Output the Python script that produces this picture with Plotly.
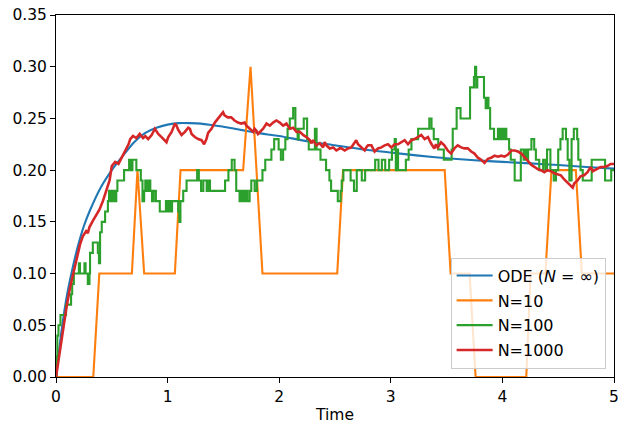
import plotly.graph_objects as go

# ODE (N = infinity) curve
ode_t = [0.0, 0.05, 0.1, 0.15, 0.2, 0.25, 0.3, 0.4, 0.5, 0.6, 0.7, 0.8, 0.9, 1.0, 1.1, 1.2, 1.3,
         1.4, 1.5, 1.6, 1.8, 2.0, 2.25, 2.5, 2.75, 3.0, 3.25, 3.5, 3.75, 4.0, 4.25, 4.5, 4.75, 5.0]
ode_v = [0.0, 0.045, 0.080, 0.106, 0.128, 0.146, 0.160, 0.183, 0.200, 0.214, 0.227, 0.236, 0.241,
         0.244, 0.2455, 0.2455, 0.245, 0.2435, 0.242, 0.240, 0.236, 0.233, 0.228, 0.224, 0.220,
         0.217, 0.214, 0.2115, 0.2095, 0.208, 0.2065, 0.205, 0.203, 0.2015]

# N = 10
n10_t = [0.0, 0.334, 0.388, 0.68, 0.73, 0.79, 1.065, 1.116, 1.677, 1.743, 1.85, 2.52, 2.572,
         3.483, 3.536, 3.706, 3.76, 4.214, 4.253, 4.385, 4.44, 4.658, 4.712, 5.0]
n10_v = [0.0, 0.0, 0.1, 0.1, 0.2, 0.1, 0.1, 0.2, 0.2, 0.3, 0.1, 0.1, 0.2,
         0.2, 0.1, 0.1, 0.0, 0.0, 0.1, 0.1, 0.2, 0.2, 0.1, 0.1]

# N = 100 (change points)
n100_t = [0.000, 0.006, 0.012, 0.022, 0.040, 0.090, 0.135, 0.145, 0.160, 0.205, 0.215, 0.255,
          0.265, 0.285, 0.300, 0.305, 0.330, 0.375, 0.385, 0.395, 0.410, 0.440, 0.465, 0.475,
          0.485, 0.495, 0.505, 0.515, 0.525, 0.540, 0.550, 0.610, 0.655, 0.670, 0.685, 0.720,
          0.760, 0.775, 0.790, 0.800, 0.815, 0.830, 0.845, 0.860, 0.875, 0.895, 0.930, 0.985,
          0.995, 1.010, 1.025, 1.040, 1.095, 1.105, 1.115, 1.140, 1.170, 1.265, 1.280, 1.300,
          1.320, 1.350, 1.365, 1.380, 1.515, 1.545, 1.575, 1.600, 1.615, 1.645, 1.655, 1.665,
          1.675, 1.690, 1.700, 1.715, 1.735, 1.750, 1.780, 1.800, 1.850, 1.875, 1.930, 1.955,
          1.995, 2.015, 2.035, 2.055, 2.075, 2.095, 2.125, 2.145, 2.165, 2.175, 2.220, 2.250,
          2.265, 2.320, 2.335, 2.370, 2.420, 2.450, 2.465, 2.525, 2.550, 2.560, 2.575, 2.640,
          2.670, 2.695, 2.740, 2.770, 2.860, 2.890, 2.920, 2.950, 2.985, 3.010, 3.035, 3.045,
          3.055, 3.065, 3.135, 3.160, 3.185, 3.245, 3.345, 3.365, 3.385, 3.425, 3.475, 3.545,
          3.555, 3.590, 3.625, 3.710, 3.745, 3.755, 3.765, 3.775, 3.835, 3.850, 3.860, 3.875,
          3.890, 3.925, 3.960, 3.975, 3.990, 4.005, 4.020, 4.035, 4.060, 4.075, 4.110, 4.165,
          4.190, 4.200, 4.215, 4.230, 4.260, 4.285, 4.300, 4.330, 4.365, 4.385, 4.400, 4.430,
          4.460, 4.480, 4.500, 4.520, 4.540, 4.570, 4.585, 4.600, 4.620, 4.640, 4.670, 4.680,
          4.700, 4.720, 4.800, 4.920, 4.975, 5.000]
n100_v = [0.00, 0.02, 0.04, 0.05, 0.06, 0.07, 0.08, 0.09, 0.10, 0.11, 0.10, 0.11,
          0.10, 0.09, 0.10, 0.12, 0.13, 0.12, 0.11, 0.14, 0.15, 0.16, 0.17, 0.18,
          0.17, 0.18, 0.17, 0.18, 0.17, 0.18, 0.19, 0.20, 0.21, 0.20, 0.21, 0.20,
          0.19, 0.17, 0.18, 0.19, 0.18, 0.19, 0.18, 0.17, 0.18, 0.17, 0.16, 0.17,
          0.16, 0.17, 0.16, 0.17, 0.16, 0.15, 0.17, 0.18, 0.19, 0.20, 0.19, 0.18,
          0.19, 0.18, 0.19, 0.18, 0.19, 0.20, 0.21, 0.20, 0.18, 0.17, 0.18, 0.17,
          0.18, 0.17, 0.18, 0.17, 0.18, 0.19, 0.18, 0.19, 0.20, 0.21, 0.22, 0.23,
          0.22, 0.21, 0.22, 0.23, 0.24, 0.25, 0.26, 0.24, 0.23, 0.24, 0.25, 0.23,
          0.22, 0.24, 0.22, 0.21, 0.20, 0.19, 0.18, 0.17, 0.18, 0.19, 0.20, 0.19,
          0.18, 0.20, 0.19, 0.20, 0.21, 0.20, 0.21, 0.20, 0.21, 0.22, 0.23, 0.20,
          0.22, 0.20, 0.21, 0.22, 0.23, 0.24, 0.25, 0.24, 0.23, 0.22, 0.21, 0.22,
          0.24, 0.26, 0.25, 0.28, 0.29, 0.30, 0.28, 0.29, 0.27, 0.26, 0.27, 0.26,
          0.24, 0.23, 0.24, 0.23, 0.24, 0.23, 0.24, 0.23, 0.22, 0.21, 0.19, 0.22,
          0.21, 0.22, 0.21, 0.22, 0.23, 0.22, 0.21, 0.20, 0.21, 0.20, 0.22, 0.20,
          0.19, 0.20, 0.22, 0.23, 0.24, 0.23, 0.21, 0.19, 0.23, 0.24, 0.23, 0.21,
          0.20, 0.19, 0.21, 0.19, 0.20, 0.20]

# N = 1000
n1000_t = [0.000, 0.030, 0.066, 0.095, 0.125, 0.155, 0.185, 0.215, 0.240, 0.270, 0.285, 0.300,
           0.330, 0.360, 0.390, 0.420, 0.450, 0.480, 0.500, 0.530, 0.560, 0.590, 0.620, 0.650,
           0.665, 0.690, 0.720, 0.750, 0.780, 0.800, 0.826, 0.857, 0.886, 0.916, 0.946, 0.976,
           0.990, 1.006, 1.036, 1.066, 1.080, 1.095, 1.125, 1.155, 1.185, 1.200, 1.215, 1.244,
           1.274, 1.304, 1.327, 1.348, 1.363, 1.393, 1.423, 1.453, 1.480, 1.497, 1.510, 1.540,
           1.570, 1.600, 1.630, 1.660, 1.690, 1.707, 1.737, 1.767, 1.780, 1.796, 1.810, 1.826,
           1.856, 1.886, 1.916, 1.945, 1.975, 2.005, 2.035, 2.065, 2.095, 2.125, 2.155, 2.185,
           2.214, 2.244, 2.274, 2.290, 2.304, 2.333, 2.363, 2.393, 2.408, 2.423, 2.453, 2.483,
           2.512, 2.542, 2.557, 2.587, 2.617, 2.646, 2.676, 2.690, 2.706, 2.736, 2.766, 2.780,
           2.796, 2.826, 2.855, 2.885, 2.915, 2.945, 2.975, 3.005, 3.034, 3.064, 3.094, 3.124,
           3.154, 3.184, 3.213, 3.243, 3.273, 3.303, 3.333, 3.360, 3.390, 3.405, 3.420, 3.450,
           3.480, 3.510, 3.540, 3.570, 3.600, 3.630, 3.660, 3.690, 3.720, 3.750, 3.780, 3.810,
           3.840, 3.870, 3.900, 3.930, 3.960, 3.990, 4.020, 4.050, 4.080, 4.110, 4.140, 4.170,
           4.200, 4.230, 4.260, 4.290, 4.315, 4.345, 4.375, 4.405, 4.435, 4.465, 4.495, 4.524,
           4.554, 4.584, 4.614, 4.630, 4.643, 4.673, 4.700, 4.733, 4.763, 4.790, 4.810, 4.850,
           4.880, 4.910, 4.940, 4.970, 5.000]
n1000_v = [0.000, 0.022, 0.045, 0.068, 0.086, 0.100, 0.117, 0.128, 0.136, 0.141, 0.139, 0.145,
           0.151, 0.157, 0.162, 0.170, 0.180, 0.190, 0.204, 0.208, 0.206, 0.212, 0.218, 0.225,
           0.230, 0.233, 0.231, 0.235, 0.231, 0.233, 0.230, 0.234, 0.240, 0.235, 0.232, 0.229,
           0.227, 0.232, 0.237, 0.245, 0.243, 0.239, 0.234, 0.237, 0.241, 0.240, 0.235, 0.232,
           0.230, 0.229, 0.225, 0.230, 0.236, 0.240, 0.246, 0.250, 0.254, 0.256, 0.253, 0.251,
           0.251, 0.248, 0.246, 0.245, 0.246, 0.243, 0.240, 0.237, 0.240, 0.238, 0.235, 0.237,
           0.240, 0.245, 0.243, 0.246, 0.248, 0.246, 0.243, 0.245, 0.240, 0.241, 0.237, 0.237,
           0.234, 0.232, 0.229, 0.226, 0.229, 0.224, 0.226, 0.222, 0.227, 0.224, 0.221, 0.222,
           0.219, 0.221, 0.221, 0.219, 0.221, 0.222, 0.227, 0.229, 0.225, 0.222, 0.219, 0.222,
           0.224, 0.224, 0.218, 0.221, 0.222, 0.224, 0.225, 0.222, 0.225, 0.225, 0.227, 0.229,
           0.225, 0.229, 0.230, 0.232, 0.234, 0.230, 0.232, 0.226, 0.221, 0.225, 0.222, 0.227,
           0.224, 0.219, 0.216, 0.221, 0.224, 0.222, 0.221, 0.221, 0.218, 0.216, 0.212, 0.210,
           0.207, 0.211, 0.212, 0.214, 0.213, 0.214, 0.213, 0.215, 0.219, 0.219, 0.218, 0.216,
           0.212, 0.208, 0.205, 0.203, 0.201, 0.200, 0.198, 0.200, 0.199, 0.197, 0.196, 0.195,
           0.191, 0.188, 0.185, 0.183, 0.187, 0.190, 0.194, 0.195, 0.198, 0.203, 0.199, 0.201,
           0.203, 0.203, 0.204, 0.206, 0.206]

y_ticks = [0.00, 0.05, 0.10, 0.15, 0.20, 0.25, 0.30, 0.35]
x_ticks = [0, 1, 2, 3, 4, 5]

FONT = "DejaVu Sans"
FS = 15.5

fig = go.Figure()
fig.add_trace(go.Scatter(x=ode_t, y=ode_v, mode="lines", name="ODE (<i>N</i> = ∞)", legendgroup="a",
                         line=dict(color="#1f77b4", width=2.1, shape="spline", smoothing=0.6)))
fig.add_trace(go.Scatter(x=n10_t, y=n10_v, mode="lines", name="N=10", legendgroup="b",
                         line=dict(color="#ff7f0e", width=2.1)))
fig.add_trace(go.Scatter(x=n100_t, y=n100_v, mode="lines", name="N=100", legendgroup="c",
                         line=dict(color="#2ca02c", width=2.1, shape="hv")))
fig.add_trace(go.Scatter(x=n1000_t, y=n1000_v, mode="lines", name="N=1000", legendgroup="d",
                         line=dict(color="#d62728", width=2.6)))

axis_common = dict(showline=True, linecolor="black", linewidth=1, mirror=True,
                   ticks="outside", ticklen=5, tickwidth=1, tickcolor="black",
                   showgrid=False, zeroline=False, automargin=False,
                   ticklabeloverflow="allow",
                   tickfont=dict(family=FONT, size=FS, color="black"))

fig.update_xaxes(range=[0, 5], tickvals=x_ticks, ticktext=[str(v) for v in x_ticks],
                 title=dict(text="Time", font=dict(family=FONT, size=FS, color="black"), standoff=4),
                 **axis_common)
fig.update_yaxes(range=[0, 0.35], tickvals=y_ticks, ticktext=[f"{v:.2f}" for v in y_ticks],
                 **axis_common)

fig.update_layout(
    width=618, height=425,
    margin=dict(l=56, r=3.5, t=15, b=48),
    paper_bgcolor="white", plot_bgcolor="white",
    font=dict(family=FONT, size=FS, color="black"),
    legend=dict(x=0.985, y=0.023, xanchor="right", yanchor="bottom",
                bgcolor="rgba(255,255,255,0.8)", bordercolor="#cccccc", borderwidth=1,
                font=dict(family=FONT, size=16, color="black"), itemwidth=36,
                tracegroupgap=1),
    showlegend=True,
)

fig.write_html("out.html", config={"displayModeBar": False},
               post_script="document.body.style.margin='0';document.body.style.overflow='hidden';")
